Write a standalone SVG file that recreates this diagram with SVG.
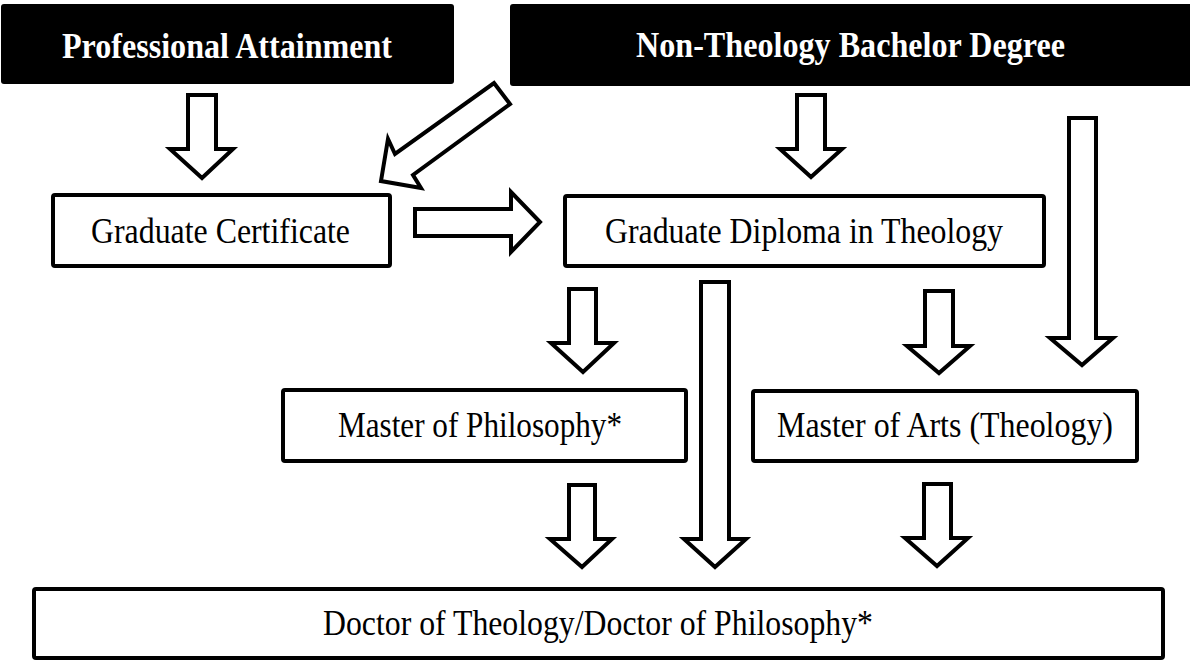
<svg xmlns="http://www.w3.org/2000/svg" width="1190" height="662" viewBox="0 0 1190 662">
<style>
.hdr{fill:#000;}
.box{fill:#fff;stroke:#000;stroke-width:4;}
.arr{fill:#fff;stroke:#000;stroke-width:4;stroke-linejoin:miter;}
.th{font-family:"Liberation Serif","Times New Roman",serif;font-size:35px;font-weight:bold;fill:#fff;}
.t{font-family:"Liberation Serif","Times New Roman",serif;font-size:35px;fill:#000;}
</style>
<rect width="1190" height="662" fill="#fff"/>
<g id="connectors">
<path class="arr" d="M188,95 H216 V149 H233 L202,178 L170,149 H188 Z"/>
<path class="arr" d="M494,83 L510,104 L413,175 L421,188 L381,181 L388,139 L395,154 Z"/>
<path class="arr" d="M415,209 H511 V192 L540,222 L511,252 V236 H415 Z"/>
<path class="arr" d="M797,95 H825 V149 H842 L811,177 L780,149 H797 Z"/>
<path class="arr" d="M1069,118 H1096 V338 H1113 L1082,365 L1050,338 H1069 Z"/>
<path class="arr" d="M569,289 H596 V343 H614 L583,372 L551,343 H569 Z"/>
<path class="arr" d="M701,282 H729 V539 H746 L715,567 L684,539 H701 Z"/>
<path class="arr" d="M925,291 H953 V346 H970 L939,373 L907,346 H925 Z"/>
<path class="arr" d="M569,485 H595 V539 H612 L582,567 L550,539 H569 Z"/>
<path class="arr" d="M924,484 H951 V538 H968 L937,566 L905,538 H924 Z"/>
</g>
<g id="professional">
<rect class="hdr" x="1" y="4" width="453" height="80" rx="3"/>
<text class="th" x="62" y="58" textLength="330" lengthAdjust="spacingAndGlyphs">Professional Attainment</text>
</g>
<g id="nontheology">
<rect class="hdr" x="510" y="4" width="690" height="82" rx="3"/>
<text class="th" x="636" y="57" textLength="429" lengthAdjust="spacingAndGlyphs">Non-Theology Bachelor Degree</text>
</g>
<g id="gradcert">
<rect class="box" x="53" y="195" width="337" height="71" rx="2"/>
<text class="t" x="91" y="243" textLength="259" lengthAdjust="spacingAndGlyphs">Graduate Certificate</text>
</g>
<g id="graddip">
<rect class="box" x="565" y="196" width="479" height="70" rx="2"/>
<text class="t" x="605" y="243" textLength="398" lengthAdjust="spacingAndGlyphs">Graduate Diploma in Theology</text>
</g>
<g id="mphil">
<rect class="box" x="283" y="390" width="403" height="71" rx="2"/>
<text class="t" x="338" y="437" textLength="284" lengthAdjust="spacingAndGlyphs">Master of Philosophy*</text>
</g>
<g id="ma">
<rect class="box" x="753" y="391" width="384" height="70" rx="2"/>
<text class="t" x="777" y="437" textLength="336" lengthAdjust="spacingAndGlyphs">Master of Arts (Theology)</text>
</g>
<g id="doctor">
<rect class="box" x="34" y="589" width="1129" height="69" rx="2"/>
<text class="t" x="323" y="635" textLength="550" lengthAdjust="spacingAndGlyphs">Doctor of Theology/Doctor of Philosophy*</text>
</g>
</svg>
